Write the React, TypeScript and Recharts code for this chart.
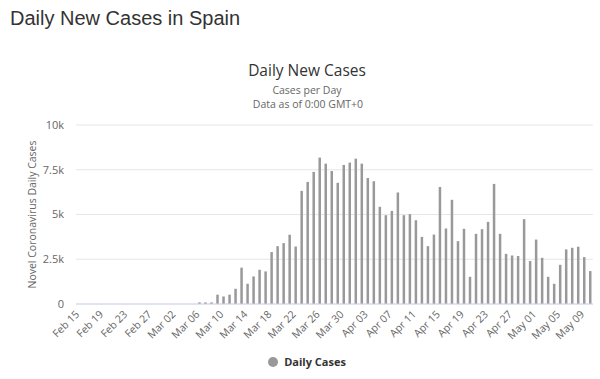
import React from "react";
import { Bar, BarChart, CartesianGrid, Legend, XAxis, YAxis } from "recharts";

// Feb 15 .. May 10 2020, one entry per day
const DATES = [
  "Feb 15", "Feb 16", "Feb 17", "Feb 18", "Feb 19", "Feb 20", "Feb 21", "Feb 22", "Feb 23", "Feb 24",
  "Feb 25", "Feb 26", "Feb 27", "Feb 28", "Feb 29",
  "Mar 01", "Mar 02", "Mar 03", "Mar 04", "Mar 05", "Mar 06", "Mar 07", "Mar 08", "Mar 09", "Mar 10",
  "Mar 11", "Mar 12", "Mar 13", "Mar 14", "Mar 15", "Mar 16", "Mar 17", "Mar 18", "Mar 19", "Mar 20",
  "Mar 21", "Mar 22", "Mar 23", "Mar 24", "Mar 25", "Mar 26", "Mar 27", "Mar 28", "Mar 29", "Mar 30",
  "Mar 31",
  "Apr 01", "Apr 02", "Apr 03", "Apr 04", "Apr 05", "Apr 06", "Apr 07", "Apr 08", "Apr 09", "Apr 10",
  "Apr 11", "Apr 12", "Apr 13", "Apr 14", "Apr 15", "Apr 16", "Apr 17", "Apr 18", "Apr 19", "Apr 20",
  "Apr 21", "Apr 22", "Apr 23", "Apr 24", "Apr 25", "Apr 26", "Apr 27", "Apr 28", "Apr 29", "Apr 30",
  "May 01", "May 02", "May 03", "May 04", "May 05", "May 06", "May 07", "May 08", "May 09", "May 10",
];

const DAILY_CASES = [
  0, 0, 0, 0, 0, 0, 0, 0, 0, 0,
  0, 0, 0, 0, 0,
  0, 0, 0, 0, 0, 90, 90, 90, 520, 420,
  520, 850, 2030, 1130, 1540, 1910, 1820, 2900, 3230, 3400,
  3870, 3210, 6320, 6820, 7380, 8180, 7840, 7430, 6770, 7770,
  7900,
  8120, 7840, 7040, 6860, 5430, 4960, 5200, 6230, 4960, 5020,
  4680, 3750, 3230, 3880, 6540, 4220, 5820, 3510, 4200, 1520,
  3920, 4180, 4590, 6710, 3920, 2800, 2710, 2680, 4740, 2400,
  3600, 2580, 1520, 1130, 2190, 3050, 3140, 3200, 2620, 1840,
];

const Y_TICKS = [0, 2500, 5000, 7500, 10000];
const Y_LABELS = ["0", "2.5k", "5k", "7.5k", "10k"];

const data = DATES.map((d, i) => ({ date: d, cases: DAILY_CASES[i] }));

const BAR_COLOR = "#999999";
const FONT = "'Open Sans', sans-serif";

function DateTick(props: any) {
  const { x, y, payload } = props;
  const tx = x + 1;
  const ty = y + 3;
  return (
    <text
      x={tx}
      y={ty}
      transform={`rotate(-45, ${tx}, ${ty})`}
      textAnchor="end"
      fontSize={10.5}
      fill="#666666"
    >
      {payload.value}
    </text>
  );
}

function LegendContent() {
  return (
    <div style={{ display: "flex", justifyContent: "center", alignItems: "center", gap: 6 }}>
      <svg width={10} height={10}>
        <circle cx={5} cy={5} r={5} fill={BAR_COLOR} />
      </svg>
      <span style={{ fontSize: 11, fontWeight: 700, color: "#333333" }}>Daily Cases</span>
    </div>
  );
}

export default function App() {
  return (
    <div
      style={{
        position: "absolute",
        left: 0,
        top: 0,
        width: 600,
        height: 379,
        background: "#ffffff",
        fontFamily: FONT,
        overflow: "hidden",
      }}
    >
      <svg width={600} height={120} style={{ position: "absolute", left: 0, top: 0 }}>
        <text x={10} y={25} fontSize={20} fill="#333333" fontFamily="'Liberation Sans', Arial, sans-serif">
          Daily New Cases in Spain
        </text>
        <text x={307} y={75.5} fontSize={15.5} fill="#333333" textAnchor="middle">
          Daily New Cases
        </text>
        <text x={307} y={94} fontSize={10.5} fill="#666666" textAnchor="middle">
          Cases per Day
        </text>
        <text x={308} y={108} fontSize={10.5} fill="#666666" textAnchor="middle">
          Data as of 0:00 GMT+0
        </text>
      </svg>
      <div style={{ position: "absolute", left: 0, top: 0 }}>
        <BarChart
          width={600}
          height={379}
          data={data}
          margin={{ top: 125, right: 7, bottom: 0, left: 0 }}
        >
          <CartesianGrid stroke="#e6e6e6" vertical={false} />
          <XAxis
            dataKey="date"
            height={75}
            interval={3}
            tickLine={false}
            axisLine={{ stroke: "#ccd6eb" }}
            tick={<DateTick />}
          />
          <YAxis
            width={76}
            domain={[0, 10000]}
            ticks={Y_TICKS}
            tickLine={false}
            axisLine={false}
            tickMargin={6}
            tick={{ fontSize: 11, fill: "#666666" }}
            tickFormatter={(v) => Y_LABELS[Y_TICKS.indexOf(Number(v))] ?? String(v)}
            label={{
              value: "Novel Coronavirus Daily Cases",
              angle: -90,
              position: "center",
              dx: -6,
              style: { fontSize: 10.5, fill: "#666666" },
            }}
          />
          <Legend
            verticalAlign="middle"
            align="center"
            layout="horizontal"
            wrapperStyle={{ top: 354, left: 7, width: 600 }}
            content={<LegendContent />}
          />
          <Bar dataKey="cases" name="Daily Cases" fill={BAR_COLOR} barSize={2.5} isAnimationActive={false} />
        </BarChart>
      </div>
    </div>
  );
}
